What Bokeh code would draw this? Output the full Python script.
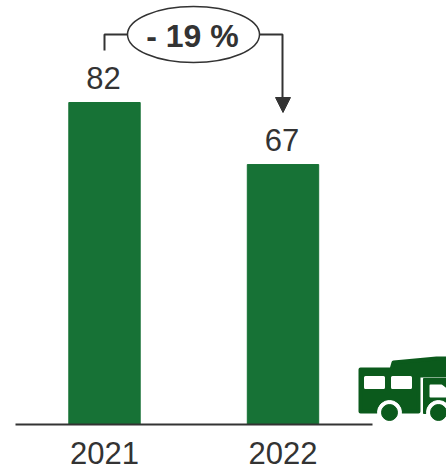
from bokeh.plotting import figure
from bokeh.models import Range1d, FixedTicker
from bokeh.core.properties import value
from bokeh.embed import file_html
from bokeh.resources import INLINE

years = ["2021", "2022"]
positions = [0, 1]
bar_values = [82, 66.2]
bar_labels = ["82", "67"]
change_label = "- 19 %"

BAR = "#177236"
ICON = "#0b5a1c"
INK = "#333333"
FONT = "Liberation Sans"

W, H = 446, 469
AXIS_Y = 424
PX_PER_X = 178.5
PX_PER_Y = 322 / 82


def X(px):
    return (px - 104) / PX_PER_X


def Y(py):
    return (AXIS_Y - py) / PX_PER_Y


p = figure(width=W, height=H, output_backend="svg", toolbar_location=None,
           x_range=Range1d(X(0), X(W)), y_range=Range1d(0, Y(0)),
           min_border_left=0, min_border_right=0, min_border_top=0, min_border_bottom=H - AXIS_Y,
           outline_line_color=None, background_fill_color="white", y_axis_location=None)
p.grid.visible = False

ax = p.xaxis[0]
ax.ticker = FixedTicker(ticks=positions)
ax.major_label_overrides = dict(zip(positions, years))
ax.major_tick_line_color = None
ax.minor_tick_line_color = None
ax.axis_line_color = INK
ax.axis_line_width = 2
ax.bounds = (X(15), X(372))
ax.major_label_text_font = FONT
ax.major_label_text_font_size = "31px"
ax.major_label_text_color = INK
ax.major_label_standoff = 11

p.vbar(x=positions, top=bar_values, bottom=0, width=0.4, color=BAR)
p.text(x=positions, y=bar_values, text=bar_labels, x_offset=-1, y_offset=-14, text_align="center",
       text_baseline="bottom", text_font=value(FONT), text_font_size="31px", text_color=INK)

# change bracket
p.line([X(127), X(104), X(104)], [Y(34), Y(34), Y(50)], line_color=INK, line_width=2)
p.line([X(259), X(282), X(282)], [Y(34), Y(34), Y(100)], line_color=INK, line_width=2)
p.patch([X(275), X(290), X(282.5)], [Y(97), Y(97), Y(112)], color=INK)
p.ellipse(x=[X(193)], y=[Y(34)], width=132, height=56, width_units="screen", height_units="screen",
          fill_color="white", line_color=INK, line_width=1.5)
p.text(x=[X(192)], y=[Y(35)], text=[change_label], text_align="center", text_baseline="middle",
       text_font=value(FONT), text_font_size="32px", text_font_style="bold", text_color=INK)

# camper icon
body_px = [(360, 369), (391, 369), (393, 362), (436, 358), (450, 358), (450, 375), (418, 375), (418, 411), (360, 411)]
cab_px = [(423, 378), (450, 378), (450, 413), (423, 413)]
p.patch([X(a) for a, b in body_px], [Y(b) for a, b in body_px], fill_color=ICON, line_color=ICON,
        line_width=4, line_join="round")
p.patch([X(a) for a, b in cab_px], [Y(b) for a, b in cab_px], color=ICON)
for x0, x1 in [(365, 383), (392, 410)]:
    pts = [(x0, 377), (x1, 377), (x1, 387), (x0, 387)]
    p.patch([X(a) for a, b in pts], [Y(b) for a, b in pts], fill_color="white", line_color="white",
            line_width=3, line_join="round")
win_px = [(430, 385), (441, 385), (450, 392), (450, 396), (430, 396)]
p.patch([X(a) for a, b in win_px], [Y(b) for a, b in win_px], fill_color="white", line_color="white",
        line_width=2, line_join="round")
for cx in (389, 438):
    p.scatter([X(cx)], [Y(412)], size=24, marker="circle", color="white")
    p.scatter([X(cx)], [Y(412)], size=16, marker="circle", color=ICON)

open("out.html", "w").write(file_html(p, INLINE))
